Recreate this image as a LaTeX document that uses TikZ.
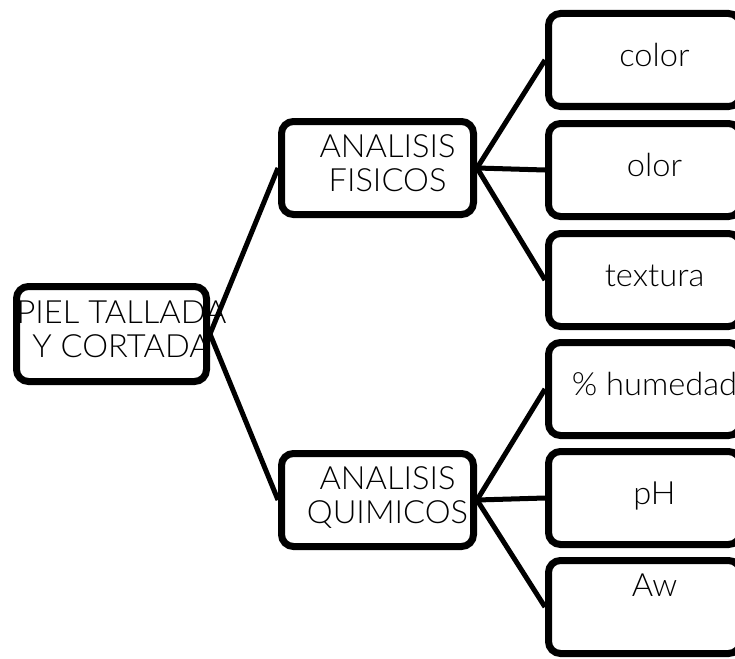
\documentclass[tikz,border=0pt]{standalone}
\usepackage{fontspec}
\setmainfont{Lato}[UprightFont={* Light}, FakeStretch=1.02]
\usetikzlibrary{shadows}

% text that may run past its box, set a little right of centre
\newcommand{\boxtext}[1]{\makebox[0pt]{\hspace{20pt}\begin{tabular}{@{}c@{}}#1\end{tabular}}}

\tikzset{
  caja/.style={draw=black, fill=white, line width=7pt, rounded corners=12pt,
    minimum width=192pt, minimum height=93pt, inner sep=0pt,
    font=\fontsize{32}{34}\selectfont,
    drop shadow={shadow xshift=0pt, shadow yshift=-3pt, opacity=.25}},
  rama/.style={line width=5pt}
}

\begin{document}
\begin{tikzpicture}[x=1pt, y=-1pt]
  \useasboundingbox (0,0) rectangle (735,658);

  \node[caja, minimum width=190pt, minimum height=95pt] (piel) at (111.5,334) {\boxtext{PIEL TALLADA\\Y CORTADA}};

  \node[caja] (fisicos) at (377.5,168) {\boxtext{ANALISIS\\FISICOS}};
  \node[caja] (quimicos) at (377.5,500) {\boxtext{ANALISIS\\QUIMICOS}};

  \node[caja] (color) at (644.5,60) {\boxtext{color}};
  \node[caja] (olor) at (644.5,170) {\boxtext{olor}};
  \node[caja] (textura) at (644.5,280) {\boxtext{textura}};
  \node[caja] (humedad) at (644.5,389) {\boxtext{\% humedad}};
  \node[caja] (ph) at (644.5,498) {\boxtext{pH}};
  \node[caja] (aw) at (644.5,607) {\boxtext{Aw\\~}};

  \draw[rama] (piel.east) -- (fisicos.west);
  \draw[rama] (piel.east) -- (quimicos.west);
  \foreach \hoja in {color,olor,textura}
    \draw[rama] (fisicos.east) -- (\hoja.west);
  \foreach \hoja in {humedad,ph,aw}
    \draw[rama] (quimicos.east) -- (\hoja.west);
\end{tikzpicture}
\end{document}
